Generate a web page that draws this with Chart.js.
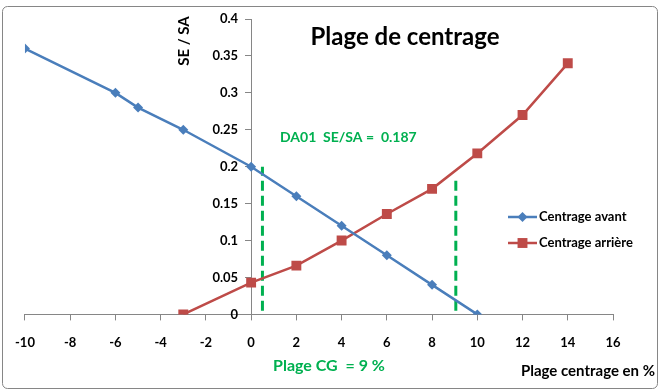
<!DOCTYPE html>
<html lang="fr">
<head>
<meta charset="utf-8">
<script src="https://cdn.jsdelivr.net/npm/chart.js@4.4.0/dist/chart.umd.min.js"></script>
<style>
    html, body { margin: 0; padding: 0; background: #fff; }
    #wrap { width: 668px; height: 391px; }
</style>
</head>
<body>
<div id="wrap"><canvas id="centrageChart" width="668" height="391"></canvas></div>
<script>
const avantX = [-10, -6, -5, -3, 0, 2, 4, 6, 8, 10];
const avantY = [0.36, 0.30, 0.28, 0.25, 0.20, 0.16, 0.12, 0.08, 0.04, 0];
const arriereX = [-3, 0, 2, 4, 6, 8, 10, 12, 14];
const arriereY = [0, 0.043, 0.066, 0.10, 0.136, 0.17, 0.218, 0.27, 0.34];

// Limites de la plage CG (pointillés verts)
const limiteAvantX = [0.5, 0.5];
const limiteAvantY = [0.005, 0.2];
const limiteArriereX = [9.05, 9.05];
const limiteArriereY = [0.005, 0.185];

// Graduations
const xTicks = [-10, -8, -6, -4, -2, 0, 2, 4, 6, 8, 10, 12, 14, 16];
const yTicks = [0, 0.05, 0.1, 0.15, 0.2, 0.25, 0.3, 0.35, 0.4];
const yTickLabels = ['0', '0.05', '0.1', '0.15', '0.2', '0.25', '0.3', '0.35', '0.4'];

const toPoints = (xs, ys) => xs.map((x, i) => ({ x: x, y: ys[i] }));

const BLUE = '#4A7EBB';
const RED = '#BE4B48';
const GREEN = '#00B050';
const AXIS = '#868686';
const FONT = 'Lato, Calibri, sans-serif';

// Cadre, titres, légende, graduations Y et textes en vert
const decorPlugin = {
    id: 'decor',
    beforeDraw(chart) {
        const ctx = chart.ctx;
        ctx.save();
        ctx.fillStyle = '#fff';
        ctx.fillRect(0, 0, chart.width, chart.height);
        ctx.strokeStyle = AXIS;
        ctx.lineWidth = 1;
        ctx.beginPath();
        ctx.roundRect(2.5, 6.5, 655, 382, 5);
        ctx.stroke();
        ctx.restore();
    },
    afterDraw(chart) {
        const ctx = chart.ctx;
        const xs = chart.scales.x;
        const ys = chart.scales.y;
        ctx.save();
        ctx.textBaseline = 'middle';

        // étiquettes de l'axe Y (l'axe croise en x = 0)
        ctx.fillStyle = '#000';
        ctx.textAlign = 'right';
        ctx.font = 'bold 13px ' + FONT;
        const axeX = xs.getPixelForValue(0);
        yTicks.forEach((v, i) => {
            ctx.fillText(yTickLabels[i], axeX - 13, ys.getPixelForValue(v));
        });

        // titre
        ctx.textAlign = 'center';
        ctx.font = 'bold 24px ' + FONT;
        ctx.fillText('Plage de centrage', 405, 37);

        // titre de l'axe Y
        ctx.save();
        ctx.translate(184, 41);
        ctx.rotate(-Math.PI / 2);
        ctx.font = 'bold 15px ' + FONT;
        ctx.fillText('SE / SA', 0, 0);
        ctx.restore();

        // titre de l'axe X
        ctx.textAlign = 'right';
        ctx.font = 'bold 15px ' + FONT;
        ctx.fillText('Plage centrage en %', 655, 371);

        // annotations vertes
        ctx.fillStyle = GREEN;
        ctx.textAlign = 'left';
        ctx.font = 'bold 14px ' + FONT;
        ctx.fillText('DA01  SE/SA =  0.187', 280, 137);
        ctx.textAlign = 'center';
        ctx.font = 'bold 16px ' + FONT;
        ctx.fillText('Plage CG  = 9 %', 329, 366);

        // légende
        const items = [
            { label: 'Centrage avant', color: BLUE, style: 'rectRot', radius: 5, y: 217 },
            { label: 'Centrage arrière', color: RED, style: 'rect', radius: 7, y: 243 }
        ];
        items.forEach(item => {
            ctx.strokeStyle = item.color;
            ctx.lineWidth = 2.5;
            ctx.beginPath();
            ctx.moveTo(508, item.y);
            ctx.lineTo(537, item.y);
            ctx.stroke();
            ctx.fillStyle = item.color;
            Chart.helpers.drawPoint(ctx, { pointStyle: item.style, radius: item.radius, borderWidth: 0 }, 522.5, item.y);
            ctx.fillStyle = '#000';
            ctx.textAlign = 'left';
            ctx.font = 'bold 13px ' + FONT;
            ctx.fillText(item.label, 539, item.y);
        });
        ctx.restore();
    }
};

const ctx = document.getElementById('centrageChart').getContext('2d');
new Chart(ctx, {
    type: 'line',
    data: {
        datasets: [{
            label: 'Centrage avant',
            data: toPoints(avantX, avantY),
            borderColor: BLUE,
            backgroundColor: BLUE,
            borderWidth: 2.5,
            pointStyle: 'rectRot',
            pointRadius: 5,
            pointBorderWidth: 0,
            tension: 0,
            order: 1
        }, {
            label: 'Centrage arrière',
            data: toPoints(arriereX, arriereY),
            borderColor: RED,
            backgroundColor: RED,
            borderWidth: 2.5,
            pointStyle: 'rect',
            pointRadius: 7,
            pointBorderWidth: 0,
            tension: 0,
            order: 2
        }, {
            label: 'limite avant',
            data: toPoints(limiteAvantX, limiteAvantY),
            borderColor: GREEN,
            borderWidth: 3,
            borderDash: [10, 5],
            pointRadius: 0,
            order: 3
        }, {
            label: 'limite arrière',
            data: toPoints(limiteArriereX, limiteArriereY),
            borderColor: GREEN,
            borderWidth: 3,
            borderDash: [10, 5],
            pointRadius: 0,
            order: 3
        }]
    },
    options: {
        responsive: false,
        animation: false,
        devicePixelRatio: 1,
        layout: {
            padding: { left: 22, right: 55, top: 19, bottom: 25 }
        },
        scales: {
            x: {
                type: 'linear',
                min: -10,
                max: 16,
                afterBuildTicks: axis => { axis.ticks = xTicks.map(v => ({ value: v })); },
                grid: { drawOnChartArea: false, color: AXIS, tickLength: 6 },
                border: { color: AXIS, width: 1 },
                ticks: {
                    color: '#000',
                    padding: 15,
                    maxRotation: 0,
                    autoSkip: false,
                    font: { family: FONT, size: 13, weight: 'bold' }
                }
            },
            y: {
                type: 'linear',
                position: { x: 0 },
                min: 0,
                max: 0.4,
                afterBuildTicks: axis => { axis.ticks = yTicks.map(v => ({ value: v })); },
                grid: { drawOnChartArea: false, color: AXIS, tickLength: 6 },
                border: { color: AXIS, width: 1 },
                ticks: { display: false }
            }
        },
        plugins: {
            legend: { display: false },
            tooltip: { enabled: false }
        }
    },
    plugins: [decorPlugin]
});
</script>
</body>
</html>
